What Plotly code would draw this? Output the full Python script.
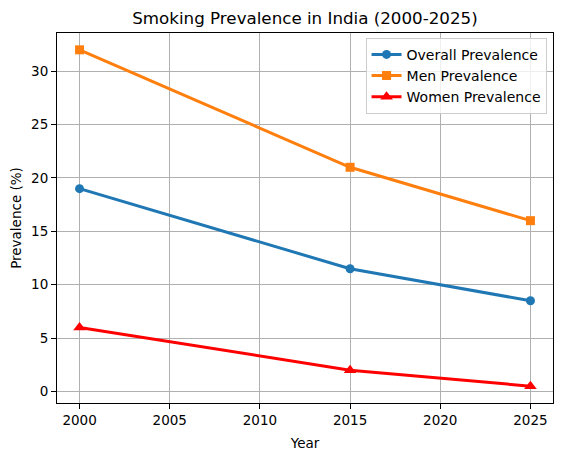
import plotly.graph_objects as go

years = [2000, 2015, 2025]
overall = [19, 11.5, 8.5]
men = [32, 21, 16]
women = [6, 2, 0.5]

series = [
    ("Overall Prevalence", overall, "#1f77b4", "circle", 9),
    ("Men Prevalence", men, "#ff7f0e", "square", 9),
    ("Women Prevalence", women, "#ff0000", "triangle-up", 11),
]

fig = go.Figure()
for name, vals, color, sym, msize in series:
    fig.add_trace(go.Scatter(
        x=years, y=vals, name=name, mode="lines+markers",
        line=dict(color=color, width=3),
        marker=dict(symbol=sym, size=msize, color=color),
    ))

font = "DejaVu Sans, sans-serif"
W, H = 554, 447
fig.update_layout(
    width=W, height=H,
    paper_bgcolor="white", plot_bgcolor="white",
    margin=dict(l=49, r=9, t=25, b=52, autoexpand=False),
    font=dict(family=font, size=13, color="black"),
    title=dict(text="Smoking Prevalence in India (2000-2025)", x=0.5, xref="paper",
               xanchor="center", y=1 - 10.5 / H, yanchor="middle",
               font=dict(size=16.7, color="black")),
    showlegend=True,
    legend=dict(x=0.987, y=0.987, xanchor="right", yanchor="top",
                bgcolor="rgba(255,255,255,0.8)", bordercolor="#cccccc", borderwidth=1,
                font=dict(size=14), tracegroupgap=0, itemwidth=30),
)
fig.update_xaxes(
    range=[1998.75, 2026.25], tickvals=[2000, 2005, 2010, 2015, 2020, 2025],
    showgrid=True, gridcolor="#b0b0b0", gridwidth=1,
    showline=True, linecolor="black", linewidth=1, mirror=True,
    ticks="outside", ticklen=5, tickcolor="black", zeroline=False,
    automargin=False,
    title=dict(text="Year", font=dict(size=13.5), standoff=11),
    tickfont=dict(size=13.5),
)
fig.update_yaxes(
    range=[-1.075, 33.575], tickvals=[0, 5, 10, 15, 20, 25, 30],
    showgrid=True, gridcolor="#b0b0b0", gridwidth=1,
    showline=True, linecolor="black", linewidth=1, mirror=True,
    ticks="outside", ticklen=5, tickcolor="black", zeroline=False,
    automargin=False,
    title=dict(text="Prevalence (%)", font=dict(size=13.5), standoff=6),
    tickfont=dict(size=13.5),
)

fig.write_html("out.html")
